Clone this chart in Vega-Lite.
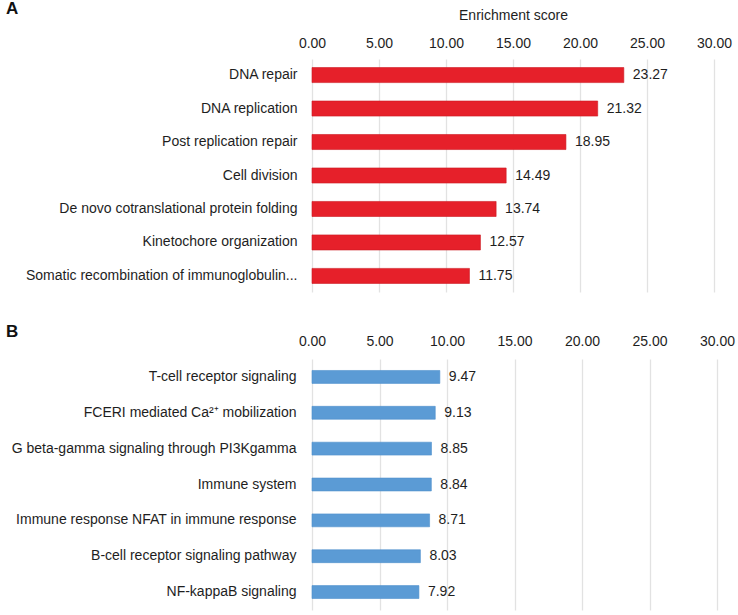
{
  "$schema": "https://vega.github.io/schema/vega-lite/v6.json",
  "padding": {"left": 6, "top": 0, "right": 4, "bottom": 4},
  "spacing": 31,
  "config": {
    "font": "Liberation Sans",
    "view": {"stroke": null},
    "axis": {"labelFont": "Liberation Sans", "titleFont": "Liberation Sans", "labelColor": "#1e1e1e", "titleColor": "#1e1e1e"},
    "title": {"font": "Liberation Sans", "color": "#111111"}
  },
  "datasets": {
    "a": [
      {"term": "DNA repair", "score": 23.27},
      {"term": "DNA replication", "score": 21.32},
      {"term": "Post replication repair", "score": 18.95},
      {"term": "Cell division", "score": 14.49},
      {"term": "De novo cotranslational protein folding", "score": 13.74},
      {"term": "Kinetochore organization", "score": 12.57},
      {"term": "Somatic recombination of immunoglobulin...", "score": 11.75}
    ],
    "b": [
      {"term": "T-cell receptor signaling", "score": 9.47},
      {"term": "FCERI mediated Ca²⁺ mobilization", "score": 9.13},
      {"term": "G beta-gamma signaling through PI3Kgamma", "score": 8.85},
      {"term": "Immune system", "score": 8.84},
      {"term": "Immune response NFAT in immune response", "score": 8.71},
      {"term": "B-cell receptor signaling pathway", "score": 8.03},
      {"term": "NF-kappaB signaling", "score": 7.92}
    ]
  },
  "vconcat": [
    {
      "data": {"name": "a"},
      "width": 402,
      "height": 233,
      "title": {"text": "A", "anchor": "start", "frame": "group", "dx": -306, "offset": -10, "fontSize": 17, "fontWeight": "bold"},
      "encoding": {
        "y": {
          "field": "term", "type": "nominal", "sort": null,
          "scale": {"paddingInner": 0.55, "paddingOuter": 0.255},
          "axis": {"title": null, "domain": false, "ticks": false, "grid": false, "labelFontSize": 14, "labelPadding": 15, "labelLimit": 310}
        },
        "x": {
          "field": "score", "type": "quantitative",
          "scale": {"domain": [0, 30]},
          "axis": {
            "orient": "top", "values": [0, 5, 10, 15, 20, 25, 30], "format": ".2f",
            "title": "Enrichment score", "titleFontSize": 14, "titleFontWeight": "normal", "titlePadding": 14,
            "domain": false, "ticks": false, "labelFontSize": 14, "labelPadding": 9, "labelFlush": false, "labelOverlap": false,
            "grid": true, "gridColor": "#e2e2e2", "gridWidth": 1.3
          }
        }
      },
      "layer": [
        {"mark": {"type": "bar", "color": "#e6202a", "stroke": "#cc1a22", "strokeWidth": 0.6}},
        {"mark": {"type": "text", "align": "left", "baseline": "middle", "dx": 9, "fontSize": 14, "color": "#1e1e1e"},
         "encoding": {"text": {"field": "score", "type": "quantitative", "format": ".2f"}}}
      ]
    },
    {
      "data": {"name": "b"},
      "width": 405,
      "height": 251,
      "title": {"text": "B", "anchor": "start", "frame": "group", "dx": -306, "offset": -7, "fontSize": 17, "fontWeight": "bold"},
      "encoding": {
        "y": {
          "field": "term", "type": "nominal", "sort": null,
          "scale": {"paddingInner": 0.64, "paddingOuter": 0.32},
          "axis": {"title": null, "domain": false, "ticks": false, "grid": false, "labelFontSize": 14, "labelPadding": 16, "labelLimit": 310}
        },
        "x": {
          "field": "score", "type": "quantitative",
          "scale": {"domain": [0, 30]},
          "axis": {
            "orient": "top", "values": [0, 5, 10, 15, 20, 25, 30], "format": ".2f",
            "title": null,
            "domain": false, "ticks": false, "labelFontSize": 14, "labelPadding": 11, "labelFlush": false, "labelOverlap": false,
            "grid": true, "gridColor": "#e2e2e2", "gridWidth": 1.3
          }
        }
      },
      "layer": [
        {"mark": {"type": "bar", "color": "#5b9bd5", "stroke": "#4f90cc", "strokeWidth": 0.6}},
        {"mark": {"type": "text", "align": "left", "baseline": "middle", "dx": 9, "fontSize": 14, "color": "#1e1e1e"},
         "encoding": {"text": {"field": "score", "type": "quantitative", "format": ".2f"}}}
      ]
    }
  ]
}
